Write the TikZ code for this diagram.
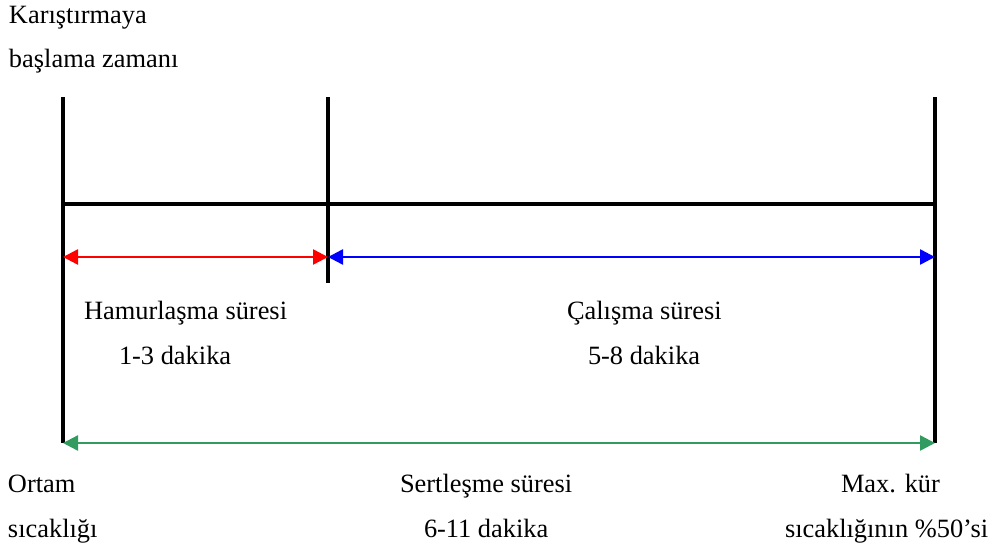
\documentclass[tikz,border=0pt]{standalone}
\usepackage{fontspec}
\setmainfont{Liberation Serif}
\usetikzlibrary{arrows.meta}
\definecolor{redarrow}{RGB}{255,0,0}
\definecolor{bluearrow}{RGB}{0,0,255}
\definecolor{greenarrow}{RGB}{50,155,95}
\begin{document}
\begin{tikzpicture}[x=1pt,y=-1pt,
  bar/.style={line width=4pt,black},
  span/.style={line width=2.5pt,{Triangle[length=15pt,width=15pt]}-{Triangle[length=15pt,width=15pt]}},
  lbl/.style={anchor=base west,inner sep=0pt,outer sep=0pt,font=\fontsize{26.4}{30}\selectfont}]
\useasboundingbox (0,0) rectangle (997,552);
% coordinates
\coordinate (Ltop) at (63,97);
\coordinate (Lbot) at (63,443);
\coordinate (Mtop) at (328,97);
\coordinate (Mbot) at (328,283);
\coordinate (Rtop) at (935,97);
\coordinate (Rbot) at (935,443);
\coordinate (Hl) at (63,204);
\coordinate (Hr) at (935,204);
\coordinate (redL) at (63,257);
\coordinate (redR) at (328,257);
\coordinate (blueR) at (935,257);
\coordinate (greenL) at (63,443);
\coordinate (greenR) at (935,443);
% black bars
\draw[bar] (Ltop) -- (Lbot);
\draw[bar] (Mtop) -- (Mbot);
\draw[bar] (Rtop) -- (Rbot);
\draw[bar] (Hl) -- (Hr);
% arrows
\draw[span,redarrow] (redL) -- (redR);
\draw[span,bluearrow] (redR) -- (blueR);
\draw[span,greenarrow] (greenL) -- (greenR);
% labels
\node[lbl] (t1) at (9,23) {Karıştırmaya};
\node[lbl] (t2) at (9,67) {başlama zamanı};
\node[lbl] (h1) at (84,319) {Hamurlaşma süresi};
\node[lbl] (h2) at (119,364) {1-3 dakika};
\node[lbl] (c1) at (567,319) {Çalışma süresi};
\node[lbl] (c2) at (588,364) {5-8 dakika};
\node[lbl] (o1) at (8,492) {Ortam};
\node[lbl] (o2) at (8,537) {sıcaklığı};
\node[lbl] (s1) at (400,492) {Sertleşme süresi};
\node[lbl] (s2) at (424,537) {6-11 dakika};
\node[lbl] (m1) at (841,492) {Max. kür};
\node[lbl] (m2) at (785,537) {sıcaklığının \%50’si};
\end{tikzpicture}
\end{document}
